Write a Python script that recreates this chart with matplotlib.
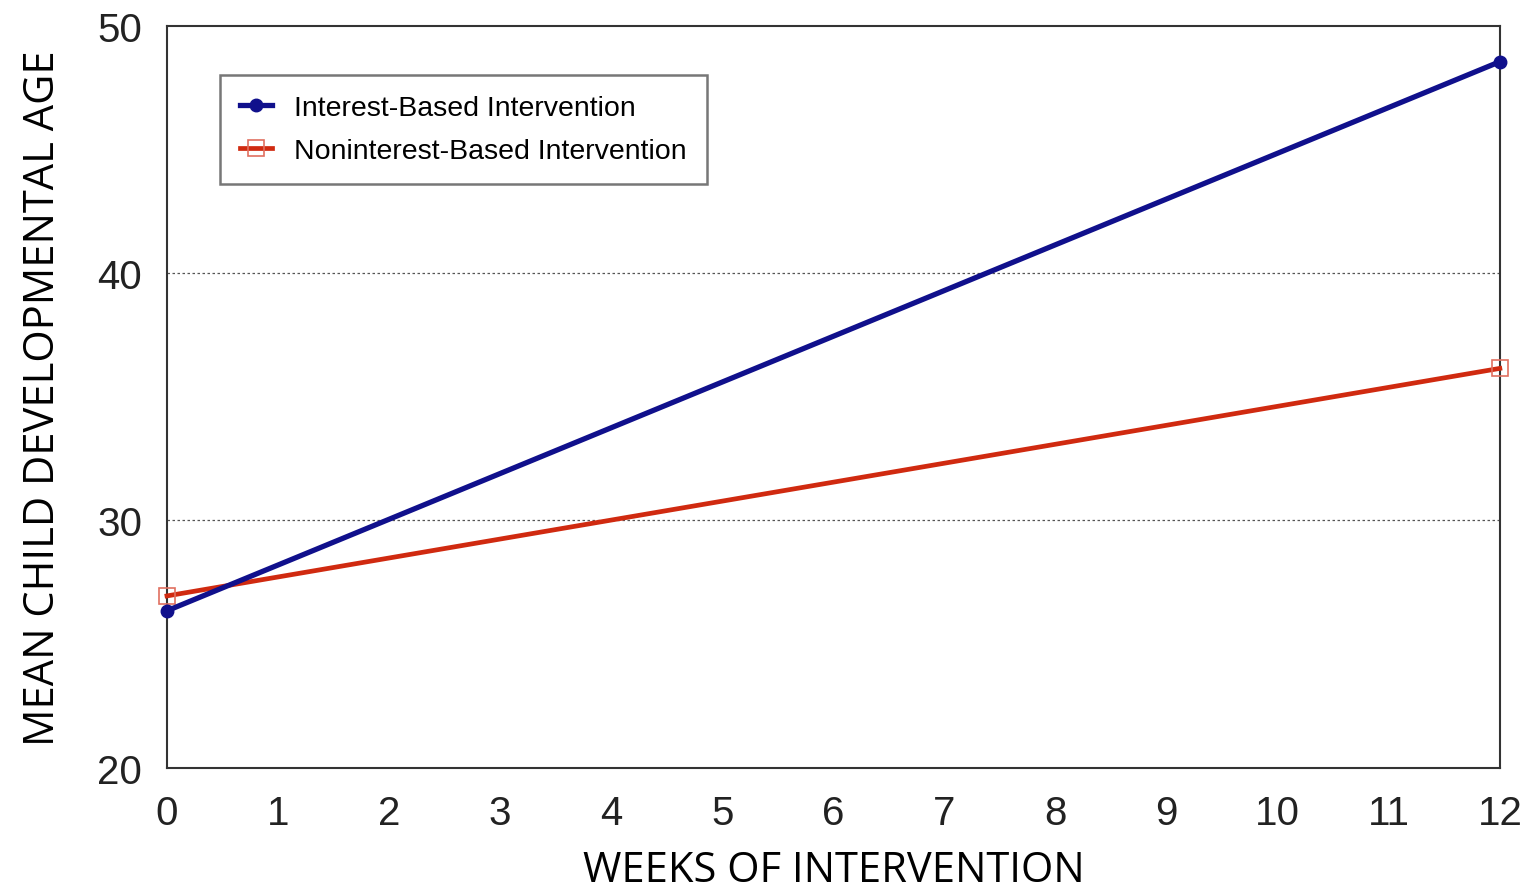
import matplotlib
matplotlib.use("Agg")
import matplotlib.pyplot as plt

# data
weeks = [0, 12]
interest = [26.35, 48.55]
noninterest = [26.95, 36.15]
xticks = list(range(0, 13))
yticks = [20, 30, 40, 50]

BLUE = "#10108c"
RED = "#d02a10"

fig = plt.figure(figsize=(15.32, 8.95), dpi=100)
ax = fig.add_axes([0.109, 0.141, 0.870, 0.829])

ax.plot(weeks, interest, color=BLUE, lw=3.8, marker="o", markersize=9,
        markerfacecolor=BLUE, markeredgecolor=BLUE, clip_on=False, zorder=4,
        label="Interest-Based Intervention")
ax.plot(weeks, noninterest, color=RED, lw=3.4, marker="s", markersize=12,
        markerfacecolor="none", markeredgecolor="#e07060", markeredgewidth=1.2,
        clip_on=False, zorder=3, label="Noninterest-Based Intervention")

ax.set_xlim(0, 12)
ax.set_ylim(20, 50)
ax.set_xticks(xticks)
ax.set_yticks(yticks)
for y in [30, 40]:
    ax.axhline(y, color="#555555", lw=0.9, ls=(0, (2, 2)), zorder=1)

ax.tick_params(length=0, labelsize=29, labelcolor="#222222")
ax.tick_params(axis="x", pad=19)
ax.tick_params(axis="y", pad=18)
for lab in ax.get_xticklabels() + ax.get_yticklabels():
    lab.set_family("Liberation Sans")
for s in ax.spines.values():
    s.set_color("#333333")
    s.set_linewidth(1.5)

ax.set_xlabel("WEEKS OF INTERVENTION", fontsize=30, family="Open Sans", labelpad=12)
ax.set_ylabel("MEAN CHILD DEVELOPMENTAL AGE", fontsize=30, family="Open Sans", labelpad=24)

leg = ax.legend(loc="upper left", bbox_to_anchor=(0.040, 0.934), borderaxespad=0,
                fancybox=False, prop={"family": "Liberation Sans", "size": 20.5},
                handlelength=1.1, borderpad=0.7, labelspacing=0.6, handletextpad=0.8)
leg.get_frame().set_edgecolor("#555555")
leg.get_frame().set_linewidth(1.8)

fig.savefig("out.png", dpi=100)
